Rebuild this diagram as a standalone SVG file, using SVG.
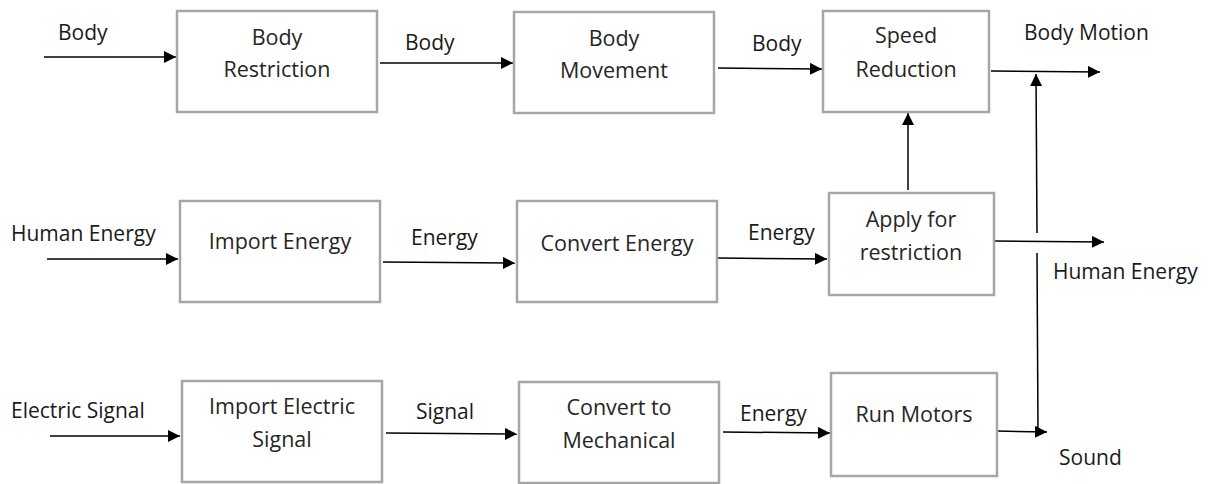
<svg xmlns="http://www.w3.org/2000/svg" width="1212" height="484" viewBox="0 0 1212 484">
<style>
.box rect{fill:#fff;stroke:#a6a6a6;stroke-width:2.5}
.box text{font-family:"Open Sans",sans-serif;font-size:21.5px;fill:#262626;text-anchor:middle}
.lbl{font-family:"Open Sans",sans-serif;font-size:21px;fill:#1a1a1a}
.conn path{fill:none;stroke:#000;stroke-width:1.5}
.arr{marker-end:url(#ah)}
</style>
<defs>
<marker id="ah" markerUnits="userSpaceOnUse" markerWidth="13" markerHeight="12" refX="12" refY="6" orient="auto">
<path d="M0,0 L12,6 L0,12 z" fill="#000"/>
</marker>
</defs>
<rect width="1212" height="484" fill="#fff"/>

<g class="conn">
<path class="arr" d="M44,57 L176,57"/>
<path class="arr" d="M380,63 L513,63"/>
<path class="arr" d="M718,68 L822,69"/>
<path class="arr" d="M991,71 L1100,72"/>
<path class="arr" d="M908,190 L908,113"/>
<path class="arr" d="M47,259 L178,259"/>
<path class="arr" d="M383,262 L515,263"/>
<path class="arr" d="M718,258 L827,259"/>
<path class="arr" d="M995,241 L1104,242"/>
<path class="arr" d="M50,436 L180,436"/>
<path class="arr" d="M386,433 L517,434"/>
<path class="arr" d="M723,432 L830,433"/>
<path class="arr" d="M997,431 L1047,432"/>
<path d="M1038,431 L1037,253"/>
<path class="arr" d="M1037,233 L1036,74"/>
</g>

<g id="n-body-restriction" class="box"><rect x="177" y="11" width="200" height="101"/><text x="277" y="45">Body</text><text x="277" y="77">Restriction</text></g>
<g id="n-body-movement" class="box"><rect x="514" y="12" width="200" height="101"/><text x="614" y="46">Body</text><text x="614" y="78">Movement</text></g>
<g id="n-speed-reduction" class="box"><rect x="823" y="11" width="166" height="101"/><text x="906" y="43">Speed</text><text x="906" y="77">Reduction</text></g>
<g id="n-import-energy" class="box"><rect x="180" y="201" width="200" height="101"/><text x="280" y="249">Import Energy</text></g>
<g id="n-convert-energy" class="box"><rect x="517" y="201" width="200" height="101"/><text x="617" y="251">Convert Energy</text></g>
<g id="n-apply-restriction" class="box"><rect x="829" y="193" width="165" height="102"/><text x="911" y="227">Apply for</text><text x="911" y="260">restriction</text></g>
<g id="n-import-electric" class="box"><rect x="182" y="381" width="200" height="101"/><text x="282" y="414">Import Electric</text><text x="282" y="447">Signal</text></g>
<g id="n-convert-mechanical" class="box"><rect x="519" y="382" width="200" height="101"/><text x="619" y="415">Convert to</text><text x="619" y="448">Mechanical</text></g>
<g id="n-run-motors" class="box"><rect x="831" y="373" width="166" height="103"/><text x="914" y="422">Run Motors</text></g>

<g id="labels">
<text class="lbl" x="58" y="40">Body</text>
<text class="lbl" x="405" y="50">Body</text>
<text class="lbl" x="752" y="51">Body</text>
<text class="lbl" x="1024" y="40">Body Motion</text>
<text class="lbl" x="11" y="241">Human Energy</text>
<text class="lbl" x="411" y="245">Energy</text>
<text class="lbl" x="748" y="240">Energy</text>
<text class="lbl" x="1053" y="279">Human Energy</text>
<text class="lbl" x="11" y="418">Electric Signal</text>
<text class="lbl" x="416" y="419">Signal</text>
<text class="lbl" x="740" y="421">Energy</text>
<text class="lbl" x="1059" y="465">Sound</text>
</g>
</svg>
